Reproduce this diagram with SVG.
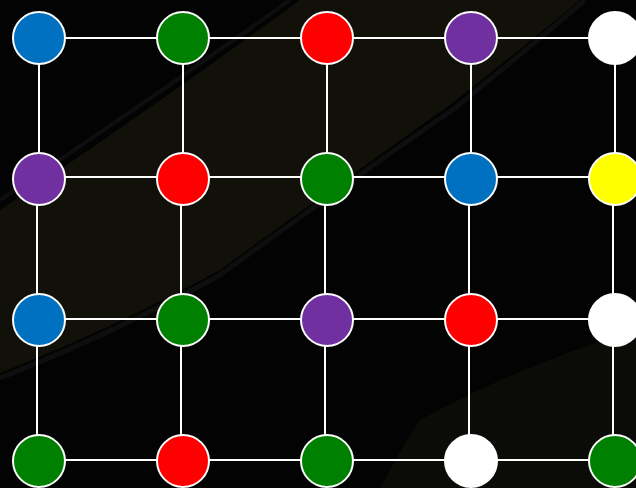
<svg xmlns="http://www.w3.org/2000/svg" width="636" height="488" viewBox="0 0 636 488">
<style>
.e{stroke:#ffffff;stroke-width:2;fill:none}
.n{stroke:#ffffff;stroke-width:2}
.blue{fill:#0070c0}.green{fill:#008000}.red{fill:#ff0000}.purple{fill:#7030a0}.white{fill:#ffffff}.yellow{fill:#ffff00}
</style>
<rect width="636" height="488" fill="#030303"/>
<path d="M0,210 Q150,110 300,0 L580,0 Q520,50 450,105 Q330,190 220,270 Q110,330 0,373 Z" fill="#11110a"/>
<path d="M0,200 Q150,100 290,0" stroke="#1a1a1a" stroke-width="4" fill="none" opacity="0.5"/>
<path d="M0,378 Q110,335 220,275 Q330,195 455,108 Q520,55 585,0" stroke="#141414" stroke-width="5" fill="none" opacity="0.7"/>
<path d="M380,488 Q400,450 420,420 Q520,365 636,330 L636,488 Z" fill="#0b0b07"/>
<g id="connectors">
<line class="e" x1="39" y1="38" x2="615" y2="38"/>
<line class="e" x1="39" y1="177" x2="615" y2="177"/>
<line class="e" x1="37" y1="319" x2="613" y2="319"/>
<line class="e" x1="37" y1="460" x2="613" y2="460"/>
<line class="e" x1="39" y1="38" x2="39" y2="177"/>
<line class="e" x1="183" y1="38" x2="183" y2="177"/>
<line class="e" x1="327" y1="38" x2="327" y2="177"/>
<line class="e" x1="471" y1="38" x2="471" y2="177"/>
<line class="e" x1="615" y1="38" x2="615" y2="177"/>
<line class="e" x1="37" y1="177" x2="37" y2="460"/>
<line class="e" x1="181" y1="177" x2="181" y2="460"/>
<line class="e" x1="325" y1="177" x2="325" y2="460"/>
<line class="e" x1="469" y1="177" x2="469" y2="460"/>
<line class="e" x1="613" y1="177" x2="613" y2="460"/>
</g>
<g id="n11"><circle class="n blue" cx="39" cy="38" r="26"/></g>
<g id="n12"><circle class="n green" cx="183" cy="38" r="26"/></g>
<g id="n13"><circle class="n red" cx="327" cy="38" r="26"/></g>
<g id="n14"><circle class="n purple" cx="471" cy="38" r="26"/></g>
<g id="n15"><circle class="n white" cx="615" cy="38" r="26"/></g>
<g id="n21"><circle class="n purple" cx="39" cy="179" r="26"/></g>
<g id="n22"><circle class="n red" cx="183" cy="179" r="26"/></g>
<g id="n23"><circle class="n green" cx="327" cy="179" r="26"/></g>
<g id="n24"><circle class="n blue" cx="471" cy="179" r="26"/></g>
<g id="n25"><circle class="n yellow" cx="615" cy="179" r="26"/></g>
<g id="n31"><circle class="n blue" cx="39" cy="320" r="26"/></g>
<g id="n32"><circle class="n green" cx="183" cy="320" r="26"/></g>
<g id="n33"><circle class="n purple" cx="327" cy="320" r="26"/></g>
<g id="n34"><circle class="n red" cx="471" cy="320" r="26"/></g>
<g id="n35"><circle class="n white" cx="615" cy="320" r="26"/></g>
<g id="n41"><circle class="n green" cx="39" cy="461" r="26"/></g>
<g id="n42"><circle class="n red" cx="183" cy="461" r="26"/></g>
<g id="n43"><circle class="n green" cx="327" cy="461" r="26"/></g>
<g id="n44"><circle class="n white" cx="471" cy="461" r="26"/></g>
<g id="n45"><circle class="n green" cx="615" cy="461" r="26"/></g>
</svg>
